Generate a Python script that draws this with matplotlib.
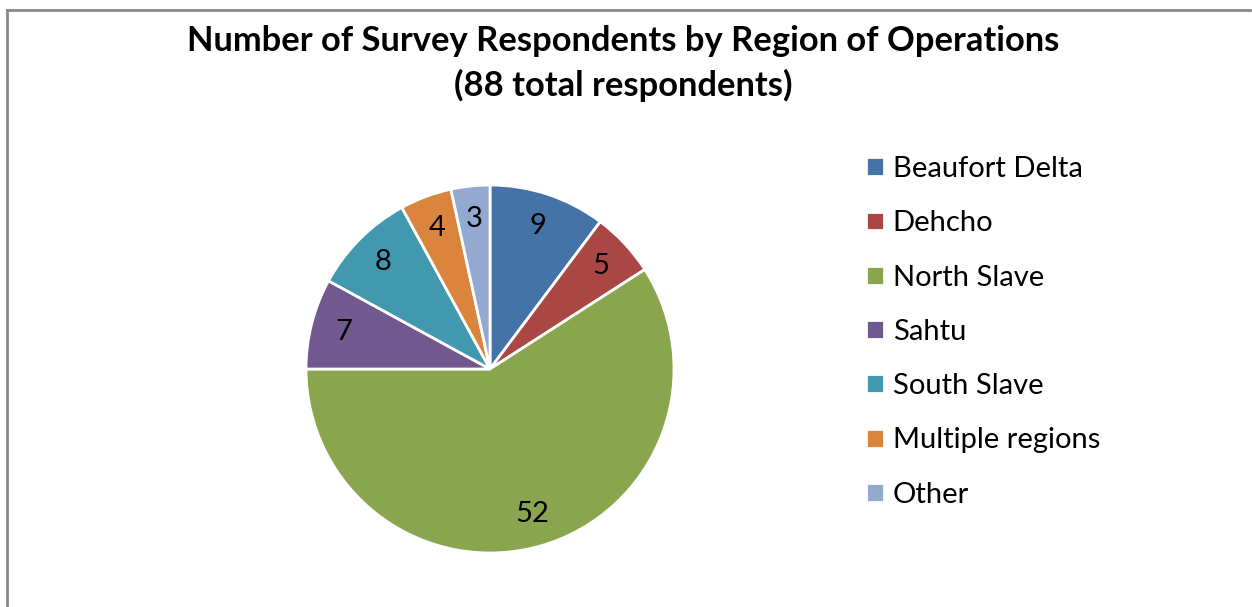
import matplotlib.pyplot as plt
from matplotlib.lines import Line2D

W, H = 1252, 607

regions = ['Beaufort Delta', 'Dehcho', 'North Slave', 'Sahtu',
           'South Slave', 'Multiple regions', 'Other']
counts = [9, 5, 52, 7, 8, 4, 3]
colors = ['#4572A7', '#AA4643', '#89A54E', '#71588F',
          '#4198AF', '#DB843D', '#93A9CF']
title = 'Number of Survey Respondents by Region of Operations\n(88 total respondents)'

plt.rcParams['font.family'] = ['Lato', 'DejaVu Sans']

fig = plt.figure(figsize=(W / 100, H / 100), dpi=100)

# chart border (gray, bottom is cut off)
fig.add_artist(Line2D([7 / W, 7 / W], [0, 1 - 10 / H], color='#888888', lw=2))
fig.add_artist(Line2D([7 / W, 1250 / W], [1 - 10 / H, 1 - 10 / H], color='#888888', lw=2))

fig.text(623 / W, 1 - 63.5 / H, title, ha='center', va='center',
         fontsize=24.8, fontweight='bold', linespacing=1.42)

cx, cy, r = 490, 369, 184
ax = fig.add_axes([(cx - r) / W, (H - cy - r) / H, 2 * r / W, 2 * r / H])
wedges, texts = ax.pie(counts, colors=colors, startangle=90, counterclock=False,
                       labels=[str(c) for c in counts], labeldistance=0.82,
                       wedgeprops=dict(edgecolor='white', linewidth=2),
                       textprops=dict(fontsize=21, ha='center', va='center'))
ax.set_xlim(-1, 1)
ax.set_ylim(-1, 1)

leg = fig.legend(wedges, regions, loc='upper left',
                 bbox_to_anchor=(866 / W, 1 - 156 / H), borderaxespad=0, borderpad=0,
                 frameon=False, fontsize=21, handlelength=0.62, handleheight=0.62,
                 handletextpad=0.3, labelspacing=0.97)

fig.savefig('out.png', dpi=100)
